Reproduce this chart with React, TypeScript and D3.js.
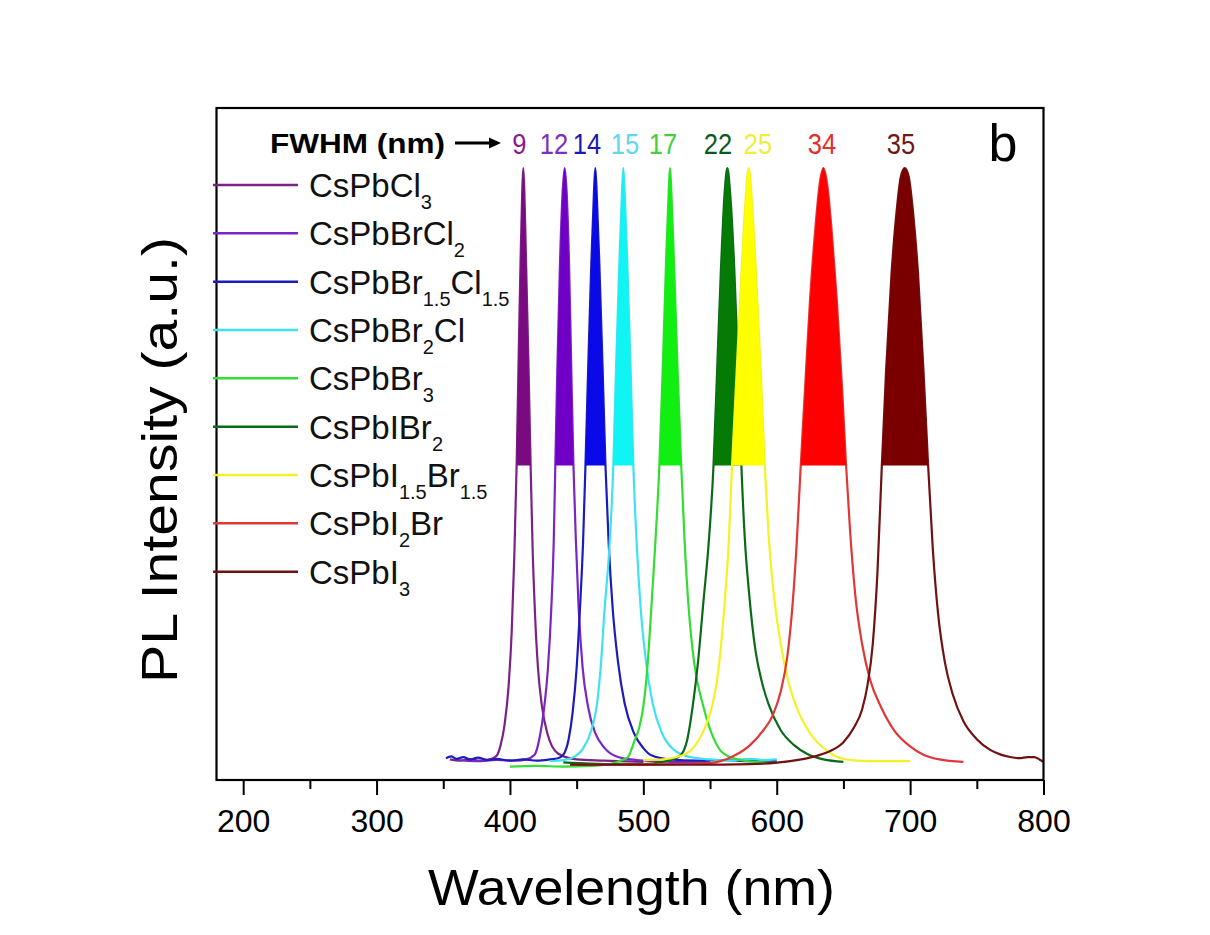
import { useEffect, useRef } from 'react';
import * as d3 from 'd3';

type Pt = [number, number];

// PL spectra, [wavelength (nm), normalised intensity]
const cspbcl3: Pt[] = [
    [355, 0.006], [362, 0.004], [370, 0.006], [378, 0.004], [385, 0.006], [390, 0.012], [393, 0.03], [396, 0.065],
    [399, 0.13], [401.3, 0.22], [403.3, 0.35], [405, 0.5], [406.5, 0.68], [408, 0.85], [409.2, 0.96], [410, 1],
    [410.8, 0.96], [412, 0.85], [413.8, 0.68], [415.5, 0.5], [417, 0.36], [418.8, 0.25], [421, 0.16], [424, 0.095],
    [428, 0.05], [436, 0.016], [450, 0.006], [470, 0.004], [500, 0.002],
];
const cspbbrcl2: Pt[] = [
    [360, 0.005], [375, 0.003], [390, 0.005], [405, 0.004], [412, 0.006], [418.5, 0.014], [422, 0.04], [425.5, 0.09],
    [428.5, 0.16], [431, 0.26], [432.8, 0.37], [434, 0.5], [435.5, 0.66], [437.5, 0.84], [439.5, 0.96], [441, 1],
    [442.5, 0.96], [444.3, 0.84], [446, 0.66], [447.6, 0.5], [449.5, 0.37], [451.5, 0.26], [454.5, 0.16],
    [458.5, 0.095], [464, 0.05], [471, 0.025], [481, 0.01], [495, 0.005], [520, 0.002], [550, 0.001],
];
const cspbbr15cl15: Pt[] = [
    [352, 0.008], [356, 0.011], [360, 0.007], [365, 0.01], [370, 0.006], [376, 0.009], [383, 0.005], [390, 0.007],
    [400, 0.004], [410, 0.006], [420, 0.004], [430, 0.006], [436, 0.008], [440, 0.014], [444, 0.04], [447, 0.085],
    [450, 0.16], [452.5, 0.26], [454.8, 0.37], [456.6, 0.5], [458.6, 0.66], [461, 0.84], [463, 0.96], [464, 1],
    [465, 0.96], [467, 0.84], [469.5, 0.66], [471.6, 0.5], [474, 0.37], [477, 0.26], [481, 0.17], [486, 0.1],
    [493, 0.05], [500, 0.025], [506, 0.013], [520, 0.006], [540, 0.004], [560, 0.005], [580, 0.003], [600, 0.004],
];
const cspbbr2cl: Pt[] = [
    [430, 0.003], [440, 0.005], [448, 0.01], [455, 0.025], [461, 0.055], [465, 0.095], [468, 0.16], [471, 0.26],
    [474.5, 0.36], [477.5, 0.5], [479.5, 0.66], [482, 0.84], [484, 0.96], [485, 1], [486, 0.96], [488, 0.84],
    [490.5, 0.66], [492.5, 0.5], [495, 0.37], [498, 0.26], [502, 0.17], [507, 0.1], [514, 0.05], [523, 0.022],
    [535, 0.01], [550, 0.006], [565, 0.004], [580, 0.007], [590, 0.005], [600, 0.006],
];
const cspbbr3: Pt[] = [
    [400, -0.006], [420, -0.005], [440, -0.006], [460, -0.005], [475, -0.002], [483, 0.004], [488.5, 0.01],
    [493, 0.035], [497, 0.06], [500, 0.095], [503, 0.16], [506, 0.26], [509, 0.37], [512, 0.5], [514.5, 0.66],
    [517, 0.84], [519, 0.96], [520, 1], [521, 0.96], [523, 0.84], [525.7, 0.66], [528.4, 0.5], [531, 0.37],
    [534, 0.26], [538, 0.17], [545, 0.095], [552, 0.045], [560, 0.016], [575, 0.004], [600, 0.0],
];
const cspbibr2: Pt[] = [
    [440, 0.001], [460, -0.001], [480, -0.002], [500, -0.002], [515, 0.002], [522, 0.006], [528, 0.013], [533, 0.04],
    [537, 0.095], [541, 0.17], [545, 0.27], [549, 0.37], [552.6, 0.5], [555, 0.64], [558, 0.82], [561, 0.96],
    [563, 1], [565, 0.96], [568, 0.84], [571, 0.67], [573.5, 0.5], [576, 0.38], [579.5, 0.28], [584, 0.19],
    [589, 0.135], [594, 0.098], [603, 0.055], [613, 0.03], [623, 0.015], [635, 0.006], [650, 0.002],
];
const cspbi15br15: Pt[] = [
    [500, 0.005], [515, 0.006], [525, 0.01], [535, 0.02], [542, 0.04], [548, 0.07], [553, 0.11], [557, 0.17],
    [561, 0.27], [564, 0.37], [566.5, 0.5], [570, 0.66], [573.5, 0.82], [576.5, 0.94], [579, 1], [581.5, 0.94],
    [584.5, 0.82], [588, 0.66], [591, 0.5], [594, 0.38], [598, 0.28], [603, 0.2], [609, 0.135], [615, 0.093],
    [625, 0.05], [638, 0.02], [648, 0.008], [660, 0.004], [680, 0.003], [700, 0.003],
];
const cspbi2br: Pt[] = [
    [450, -0.003], [480, -0.003], [520, -0.002], [550, 0.0], [568, 0.012], [580, 0.03], [590, 0.055], [597, 0.08],
    [603, 0.12], [608, 0.18], [612, 0.27], [615, 0.37], [618, 0.5], [621, 0.62], [625, 0.78], [629, 0.9], [632, 0.97],
    [635, 1], [638, 0.97], [641, 0.9], [645, 0.78], [649, 0.63], [652, 0.5], [655, 0.39], [659, 0.28], [664, 0.2],
    [670, 0.14], [678, 0.095], [688, 0.055], [700, 0.028], [710, 0.014], [722, 0.006], [740, 0.002],
];
const cspbi3: Pt[] = [
    [445, -0.003], [490, -0.003], [540, -0.003], [580, -0.002], [610, 0.003], [630, 0.012], [640, 0.02], [650, 0.035],
    [658, 0.06], [664, 0.09], [668, 0.13], [672, 0.2], [675.5, 0.32], [678.8, 0.5], [682, 0.66], [686, 0.82],
    [690, 0.93], [693, 0.985], [696, 1], [699, 0.985], [702, 0.93], [706, 0.82], [710, 0.66], [713.5, 0.5],
    [717, 0.36], [721, 0.25], [726, 0.17], [732, 0.115], [740, 0.07], [750, 0.04], [760, 0.022], [768, 0.014],
    [775, 0.01], [782, 0.008], [788, 0.01], [793, 0.01], [797, 0.006], [800, 0.002],
];

const spectra = [cspbcl3, cspbbrcl2, cspbbr15cl15, cspbbr2cl, cspbbr3, cspbibr2, cspbi15br15, cspbi2br, cspbi3];
const lineColors = ['#7b2286', '#7a26c2', '#1c1cbc', '#3fe2f2', '#33dd33', '#0b6a1a', '#f2f226', '#e03838', '#701212'];
const fillColors = ['#7a0a80', '#7000c6', '#0a0ae8', '#10f4f4', '#11ee11', '#057a05', '#ffff00', '#ff0000', '#7a0000'];
const labelColors = ['#8a1a8a', '#7b30c2', '#1a1ab2', '#5fd8ee', '#40d040', '#0a5a1a', '#eeee3c', '#e03030', '#701818'];

const fwhm = [9, 12, 14, 15, 17, 22, 25, 34, 35];
const fwhmLabelAt = [407.1, 433, 457.7, 486.2, 514.7, 555.9, 585.9, 633.9, 693.1];

// legend names as [text, subscript] pieces
const legendNames: [string, boolean][][] = [
    [['CsPbCl', false], ['3', true]],
    [['CsPbBrCl', false], ['2', true]],
    [['CsPbBr', false], ['1.5', true], ['Cl', false], ['1.5', true]],
    [['CsPbBr', false], ['2', true], ['Cl', false]],
    [['CsPbBr', false], ['3', true]],
    [['CsPbIBr', false], ['2', true]],
    [['CsPbI', false], ['1.5', true], ['Br', false], ['1.5', true]],
    [['CsPbI', false], ['2', true], ['Br', false]],
    [['CsPbI', false], ['3', true]],
];

const xTicks = [200, 300, 400, 500, 600, 700, 800];
const xMinorTicks = [250, 350, 450, 550, 650, 750];

const W = 1210;
const H = 935;
const FONT = '"Liberation Sans", Arial, Helvetica, sans-serif';

function PLChart() {
    const svgRef = useRef<SVGSVGElement>(null);

    useEffect(() => {
        if (!svgRef.current) return;
        const svg = d3.select(svgRef.current);
        svg.selectAll('*').remove();

        const left = 216.5, right = 1043.5, top = 108, bottom = 780;
        const x = d3.scaleLinear().domain([180, 800]).range([left, right]);
        const y = d3.scaleLinear().domain([-0.0286, 1.1008]).range([bottom, top]);

        svg.append('rect').attr('width', W).attr('height', H).attr('fill', '#fff');

        svg.append('defs').append('clipPath').attr('id', 'plot-clip')
            .append('rect').attr('x', left).attr('y', top).attr('width', right - left).attr('height', bottom - top);

        const line = d3.line<Pt>().x(d => x(d[0])).y(d => y(d[1])).curve(d3.curveMonotoneX);
        const area = d3.area<Pt>().x(d => x(d[0])).y0(y(0.5)).y1(d => y(d[1])).curve(d3.curveMonotoneX);

        const plot = svg.append('g').attr('clip-path', 'url(#plot-clip)');
        spectra.forEach((s, i) => {
            plot.append('path')
                .datum(s)
                .attr('d', line)
                .attr('fill', 'none')
                .attr('stroke', lineColors[i])
                .attr('stroke-width', 2.2)
                .attr('stroke-linejoin', 'round');
            plot.append('path')
                .datum(s.filter(d => d[1] >= 0.5))
                .attr('d', area)
                .attr('fill', fillColors[i]);
        });

        // frame
        svg.append('rect')
            .attr('x', left).attr('y', top)
            .attr('width', right - left).attr('height', bottom - top)
            .attr('fill', 'none').attr('stroke', '#000').attr('stroke-width', 2.2);

        const xAxis = svg.append('g')
            .attr('transform', `translate(0,${bottom})`)
            .call(d3.axisBottom(x).tickValues(xTicks).tickSize(15).tickPadding(14).tickFormat(d3.format('d')));
        xAxis.attr('font-size', 32).attr('font-family', FONT);
        xAxis.select('.domain').remove();
        xAxis.selectAll('line').attr('stroke', '#000').attr('stroke-width', 2);
        xAxis.selectAll('text').attr('fill', '#000');

        const xMinor = svg.append('g')
            .attr('transform', `translate(0,${bottom})`)
            .call(d3.axisBottom(x).tickValues(xMinorTicks).tickSize(9).tickFormat(() => ''));
        xMinor.select('.domain').remove();
        xMinor.selectAll('line').attr('stroke', '#000').attr('stroke-width', 2);

        // axis titles
        svg.append('text')
            .attr('x', 631.5).attr('y', 905)
            .attr('text-anchor', 'middle')
            .attr('font-family', FONT).attr('font-size', 50)
            .attr('textLength', 407).attr('lengthAdjust', 'spacingAndGlyphs')
            .text('Wavelength (nm)');
        svg.append('text')
            .attr('transform', 'translate(176.7,460) rotate(-90)')
            .attr('text-anchor', 'middle')
            .attr('font-family', FONT).attr('font-size', 50)
            .attr('textLength', 446).attr('lengthAdjust', 'spacingAndGlyphs')
            .text('PL Intensity (a.u.)');

        // legend
        const legendY = d3.scaleLinear().domain([0, legendNames.length - 1]).range([185, 571.7]);
        legendNames.forEach((parts, i) => {
            const ly = legendY(i);
            svg.append('line')
                .attr('x1', 213).attr('x2', 298)
                .attr('y1', ly).attr('y2', ly)
                .attr('stroke', lineColors[i]).attr('stroke-width', 2.5);
            const t = svg.append('text')
                .attr('x', 309).attr('y', ly + 12)
                .attr('font-family', FONT).attr('font-size', 33).attr('fill', '#111');
            let shifted = false;
            parts.forEach(([txt, sub]) => {
                const dy = sub && !shifted ? 12 : !sub && shifted ? -12 : 0;
                shifted = sub;
                t.append('tspan').attr('dy', dy).attr('font-size', sub ? 20 : 33).text(txt);
            });
        });

        // FWHM header and arrow
        svg.append('text')
            .attr('x', 270).attr('y', 153)
            .attr('font-family', FONT).attr('font-size', 27).attr('font-weight', 'bold')
            .attr('textLength', 175).attr('lengthAdjust', 'spacingAndGlyphs')
            .text('FWHM (nm)');
        svg.append('line')
            .attr('x1', 455).attr('x2', 491).attr('y1', 143).attr('y2', 143)
            .attr('stroke', '#000').attr('stroke-width', 3);
        svg.append('path')
            .attr('d', 'M489,137.5 L501,143 L489,148.5 Z')
            .attr('fill', '#000');

        fwhm.forEach((v, i) => {
            const label = String(v);
            svg.append('text')
                .attr('x', x(fwhmLabelAt[i])).attr('y', 154)
                .attr('text-anchor', 'middle')
                .attr('font-family', FONT).attr('font-size', 29)
                .attr('textLength', label.length * 14.2).attr('lengthAdjust', 'spacingAndGlyphs')
                .attr('fill', labelColors[i])
                .text(label);
        });

        svg.append('text')
            .attr('x', 1003).attr('y', 161)
            .attr('text-anchor', 'middle')
            .attr('font-family', FONT).attr('font-size', 52)
            .text('b');
    }, []);

    return <svg ref={svgRef} width={W} height={H} style={{ position: 'absolute', left: 0, top: 0 }}></svg>;
}

export default function App() {
    return <PLChart />;
}
